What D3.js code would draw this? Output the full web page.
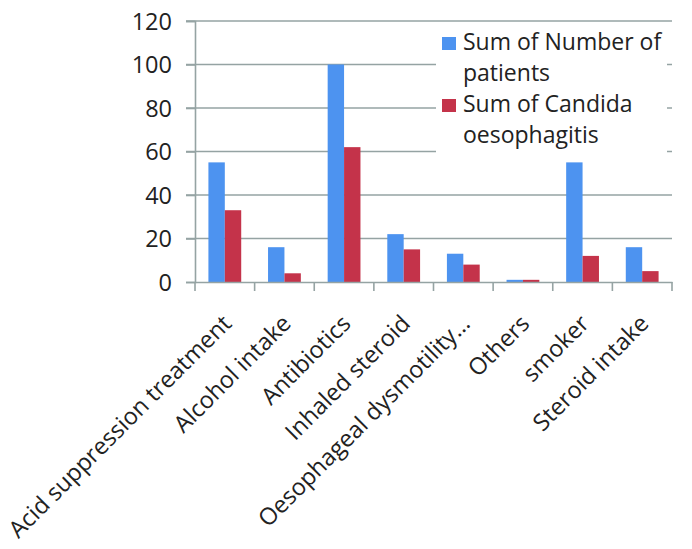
<!DOCTYPE html>
<html>
<head>
<meta charset="utf-8">
<script src="https://cdn.jsdelivr.net/npm/d3@7"></script>
<style>
  html, body { margin: 0; padding: 0; background: #ffffff; }
  svg { display: block; }
  text { font-family: "Open Sans", sans-serif; fill: #222222; }
</style>
</head>
<body>
<svg id="chart" width="692" height="549"></svg>
<script>
const categories = ["Acid suppression treatment", "Alcohol intake", "Antibiotics", "Inhaled steroid",
  "Oesophageal dysmotility\u2026", "Others", "smoker", "Steroid intake"];
const seriesNames = ["Sum of Number of patients", "Sum of Candida oesophagitis"];
const patients = [55, 16, 100, 22, 13, 1, 55, 16];
const candida = [33, 4, 62, 15, 8, 1, 12, 5];
const yTicks = [0, 20, 40, 60, 80, 100, 120];
const legendLines = [["Sum of Number of", "patients"], ["Sum of Candida", "oesophagitis"]];
const colors = ["#4d93f0", "#c4334a"];

const svg = d3.select("#chart");
const plotLeft = 195, plotRight = 672, plotTop = 21, plotBottom = 282;
const gridColor = "#95a3a3";

const y = d3.scaleLinear().domain([0, 120]).range([plotBottom, plotTop]);
const x0 = d3.scaleBand().domain(categories).range([plotLeft, plotRight]).padding(0);
const bw = x0.bandwidth();
const x1 = d3.scaleBand().domain(seriesNames).range([bw * 0.225, bw * 0.775]).padding(0);

// gridlines (including tick stubs left of the axis)
svg.append("g").selectAll("line").data(yTicks.filter(d => d > 0)).join("line")
  .attr("x1", plotLeft - 9).attr("x2", plotRight)
  .attr("y1", d => y(d)).attr("y2", d => y(d))
  .attr("stroke", gridColor).attr("stroke-width", 1.6);

// y axis labels
const yAxis = d3.axisLeft(y).tickValues(yTicks).tickSize(9).tickPadding(14).tickFormat(d3.format("d"));
const gy = svg.append("g").attr("transform", `translate(${plotLeft},0)`).call(yAxis);
gy.select(".domain").attr("stroke", gridColor).attr("stroke-width", 1.6);
gy.selectAll(".tick line").attr("stroke", gridColor).attr("stroke-width", 1.6);
gy.selectAll(".tick text").attr("font-size", 23.5).attr("font-family", "Open Sans, sans-serif")
  .attr("fill", "#222").attr("dy", "0.36em");

// bars
const data = categories.map((c, i) => ({ cat: c, vals: [patients[i], candida[i]] }));
const groups = svg.append("g").selectAll("g").data(data).join("g")
  .attr("transform", d => `translate(${x0(d.cat)},0)`);
groups.selectAll("rect").data(d => d.vals.map((v, j) => ({ v, s: seriesNames[j], j })))
  .join("rect")
  .attr("x", d => x1(d.s))
  .attr("width", x1.bandwidth())
  .attr("y", d => y(d.v))
  .attr("height", d => y(0) - y(d.v))
  .attr("fill", d => colors[d.j]);

// x axis
const xAxis = d3.axisBottom(x0).tickSize(0).tickFormat("");
const gx = svg.append("g").attr("transform", `translate(0,${plotBottom})`).call(xAxis);
gx.select(".domain").attr("stroke", gridColor).attr("stroke-width", 1.6);
const boundaries = d3.range(categories.length + 1).map(i => plotLeft + i * bw);
gx.selectAll("line.bt").data(boundaries).join("line").attr("class", "bt")
  .attr("x1", d => d).attr("x2", d => d).attr("y1", 0).attr("y2", 9)
  .attr("stroke", gridColor).attr("stroke-width", 1.6);

// rotated category labels
svg.append("g").selectAll("text").data(categories).join("text")
  .attr("transform", d => `translate(${x0(d) + bw / 2 + 8},${325}) rotate(-45)`)
  .attr("text-anchor", "end")
  .attr("font-size", 23.5)
  .text(d => d);

// legend
const lg = svg.append("g");
lg.append("rect").attr("x", 436).attr("y", 25).attr("width", 231).attr("height", 132).attr("fill", "#ffffff");
legendLines.forEach((lines, i) => {
  const baseY = 50 + i * 62;
  lg.append("rect").attr("x", 442).attr("y", baseY - 13).attr("width", 14).attr("height", 13)
    .attr("fill", colors[i]);
  const t = lg.append("text").attr("x", 463).attr("y", baseY).attr("font-size", 23);
  lines.forEach((ln, k) => {
    t.append("tspan").attr("x", 463).attr("y", baseY + k * 31).text(ln);
  });
});
</script>
</body>
</html>
